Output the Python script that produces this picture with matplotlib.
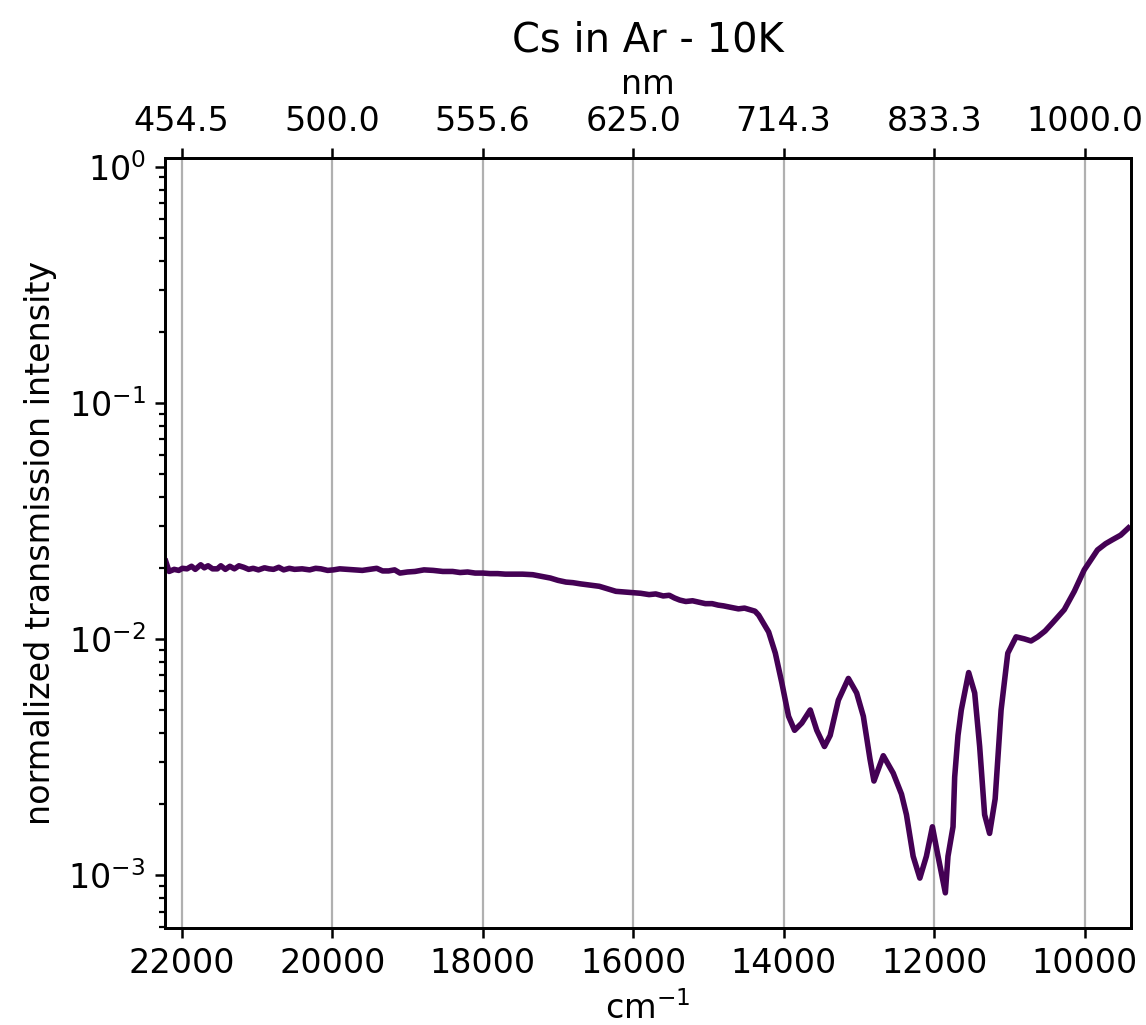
import numpy as np
import matplotlib
matplotlib.use('Agg')
import matplotlib.pyplot as plt

# wavenumber (cm^-1) and normalized transmission
wavenumber = [22212, 22168, 22100, 22040, 21991, 21930, 21870, 21820, 21748, 21700,
              21650, 21590, 21527, 21480, 21420, 21360, 21300, 21240, 21175, 21110,
              21050, 20980, 20900, 20840, 20780, 20710, 20645, 20570, 20500, 20400,
              20300, 20220, 20150, 20060, 19983, 19900, 19800, 19700, 19600, 19500,
              19408, 19330, 19250, 19170, 19099, 19000, 18900, 18780, 18658, 18530,
              18400, 18300, 18200, 18100, 17996, 17900, 17800, 17700, 17600, 17470,
              17334, 17220, 17100, 17000, 16892, 16800, 16700, 16580, 16450, 16340,
              16229, 16120, 16000, 15900, 15788, 15700, 15600, 15520, 15450, 15380,
              15300, 15210, 15126, 15040, 14950, 14870, 14800, 14700, 14600, 14520,
              14450, 14380,
              14331, 14199, 14110, 14023, 13934, 13854, 13758, 13646, 13559, 13457,
              13381, 13272, 13139, 13029, 12940, 12852, 12799, 12675, 12543, 12433,
              12367, 12278, 12189, 12102, 12022, 11947, 11850, 11815, 11748, 11726,
              11682, 11638, 11540, 11460, 11394, 11328, 11262, 11188, 11109, 11020,
              10910, 10800, 10711, 10622, 10524, 10424, 10269, 10136, 10004, 9916,
              9828, 9720, 9629, 9520, 9417]
transmission = [0.0213, 0.0193, 0.0197, 0.0195, 0.0199, 0.0198, 0.0203, 0.0197, 0.0206, 0.0200,
                0.0204, 0.0198, 0.0198, 0.0204, 0.0197, 0.0203, 0.0198, 0.0204, 0.0201, 0.0197,
                0.0199, 0.0196, 0.0200, 0.0198, 0.0197, 0.0201, 0.0196, 0.0199, 0.0197, 0.0198,
                0.0196, 0.0199, 0.0198, 0.0195, 0.0196, 0.0198, 0.0197, 0.0196, 0.0195, 0.0197,
                0.0199, 0.0194, 0.0194, 0.0196, 0.0190, 0.0192, 0.0193, 0.0196, 0.0195, 0.0193,
                0.0193, 0.0191, 0.0192, 0.0190, 0.0190, 0.0189, 0.0189, 0.0188, 0.0188, 0.0188,
                0.0187, 0.0184, 0.0181, 0.0177, 0.0174, 0.0173, 0.0171, 0.0169, 0.0167, 0.0163,
                0.0159, 0.0158, 0.0157, 0.0156, 0.0154, 0.0155, 0.0152, 0.0153, 0.0149, 0.0146,
                0.0144, 0.0145, 0.0143, 0.0141, 0.0141, 0.0139, 0.0138, 0.0136, 0.0134, 0.0135,
                0.0133, 0.0131,
                0.0126, 0.0107, 0.0087, 0.0065, 0.0047, 0.0041, 0.0044, 0.0050, 0.0041, 0.0035,
                0.0039, 0.0055, 0.0068, 0.0059, 0.0047, 0.0031, 0.0025, 0.0032, 0.0027, 0.0022,
                0.0018, 0.0012, 0.00097, 0.0012, 0.0016, 0.0012, 0.00084, 0.0012, 0.0016, 0.0026,
                0.0039, 0.0050, 0.0072, 0.0059, 0.0035, 0.0018, 0.0015, 0.0021, 0.0050, 0.0087,
                0.0102, 0.0100, 0.0098, 0.0102, 0.0108, 0.0117, 0.0133, 0.0159, 0.0196, 0.0216,
                0.0238, 0.0253, 0.0263, 0.0275, 0.0295]

xticks = [22000, 20000, 18000, 16000, 14000, 12000, 10000]

plt.rcParams['font.size'] = 12
plt.rcParams['axes.linewidth'] = 1.0
plt.rcParams['xtick.major.width'] = 0.9
plt.rcParams['ytick.major.width'] = 0.9
plt.rcParams['ytick.minor.width'] = 0.8

fig = plt.figure(figsize=(5.73, 5.125), dpi=200)
ax = fig.add_axes([0.144, 0.0946, 0.843, 0.7514])
ax.plot(wavenumber, transmission, color='#440154', lw=2)
ax.set_yscale('log')
ax.set_xlim(22222, 9381)
ax.set_ylim(5.96e-4, 1.09)
ax.set_xticks(xticks)
ax.grid(True, axis='x', color='#b0b0b0')
ax.set_xlabel('cm$^{-1}$')
ax.set_ylabel('normalized transmission intensity')

ax2 = ax.twiny()
ax2.set_xlim(ax.get_xlim())
ax2.set_xticks(xticks)
ax2.set_xticklabels([f'{1e7 / t:.1f}' for t in xticks])
ax2.set_xlabel('nm')
ax2.set_title('Cs in Ar - 10K')

fig.savefig('out.png', dpi=200)
